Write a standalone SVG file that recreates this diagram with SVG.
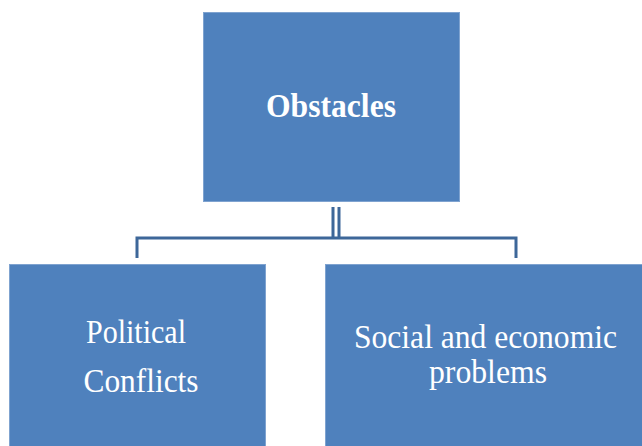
<svg xmlns="http://www.w3.org/2000/svg" width="642" height="446" viewBox="0 0 642 446">
<style>
.box{fill:#4F81BD;stroke:#7FA3D0;stroke-width:1}
.t{font-family:"Liberation Serif","Times New Roman",serif;fill:#fff;text-anchor:middle}
.b{font-weight:bold;font-size:33px}
.r{font-size:33px}
.c{fill:none;stroke:#3D6799;stroke-width:3}
</style>
<rect width="642" height="446" fill="#fff"/>
<g id="connectors">
<path class="c" d="M333,207 V238 M339,207 V238"/>
<path class="c" d="M137,258 V238 H516 V258"/>
</g>
<g id="obstacles">
<rect class="box" x="203.5" y="12.5" width="256" height="189"/>
<text class="t b" x="331" y="117" textLength="130" lengthAdjust="spacingAndGlyphs">Obstacles</text>
</g>
<g id="political">
<rect class="box" x="9.5" y="264.5" width="256" height="190"/>
<text class="t r" x="136" y="343" textLength="100" lengthAdjust="spacingAndGlyphs">Political</text>
<text class="t r" x="141" y="392" textLength="115" lengthAdjust="spacingAndGlyphs">Conflicts</text>
</g>
<g id="social">
<rect class="box" x="325.5" y="264.5" width="330" height="190"/>
<text class="t r" x="485.5" y="348" textLength="263" lengthAdjust="spacingAndGlyphs">Social  and economic</text>
<text class="t r" x="488" y="383" textLength="118" lengthAdjust="spacingAndGlyphs">problems</text>
</g>
</svg>
